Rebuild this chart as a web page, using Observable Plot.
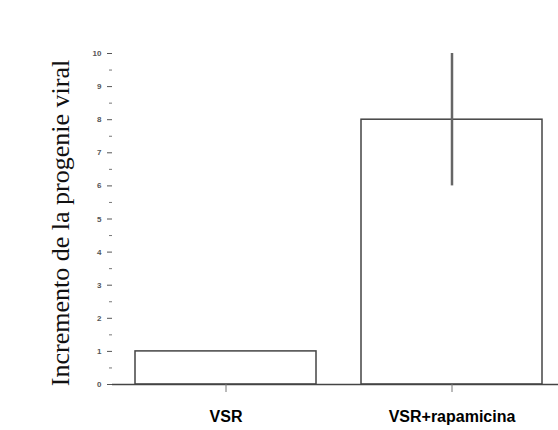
<!DOCTYPE html>
<html>
<head>
<meta charset="utf-8">
<script src="https://cdn.jsdelivr.net/npm/d3@7"></script>
<script src="https://cdn.jsdelivr.net/npm/@observablehq/plot@0.6"></script>
<style>
  body { margin: 0; background: #fff; }
  #chart { width: 558px; height: 430px; }
</style>
</head>
<body>
<div id="chart"></div>
<script>
const categories = ["VSR", "VSR+rapamicina"];
const values = [1, 8];
const errLow = [null, 6];
const errHigh = [null, 10];
const yTicks = [0, 1, 2, 3, 4, 5, 6, 7, 8, 9, 10];
const yMinorTicks = [0.5, 1.5, 2.5, 3.5, 4.5, 5.5, 6.5, 7.5, 8.5, 9.5];
const yLabel = "Incremento de la progenie viral";

const data = categories.map((c, i) => ({cat: c, v: values[i], lo: errLow[i], hi: errHigh[i]}));
const errData = data.filter(d => d.lo != null);

const chart = Plot.plot({
  width: 558,
  height: 430,
  marginLeft: 112,
  marginRight: 0,
  marginTop: 53,
  marginBottom: 46,
  style: {background: "#fff", fontFamily: "Arial, 'Liberation Sans', sans-serif"},
  x: {domain: categories, paddingInner: 0.2, paddingOuter: 0.086, align: 0.59},
  y: {domain: [0, 10]},
  marks: [
    Plot.barY(data, {x: "cat", y: "v", fill: "#fff", stroke: "#444", strokeWidth: 1.5}),
    Plot.ruleX(errData, {x: "cat", y1: "lo", y2: "hi", stroke: "#666", strokeWidth: 2.5}),
    Plot.ruleY([0], {stroke: "#444", strokeWidth: 1.5}),
    Plot.ruleX([0], {frameAnchor: "left", y1: 0, y2: 10, stroke: "#555", strokeWidth: 1.5}),
    Plot.axisY(yTicks, {anchor: "left", tickSize: 5, tickPadding: 6, fontSize: 8, fontWeight: "bold", color: "#555", stroke: "#555", label: null}),
    Plot.axisY(yMinorTicks, {anchor: "left", tickSize: 3, tickFormat: () => "", stroke: "#777", label: null}),
    Plot.axisX({anchor: "bottom", tickSize: 8, tickPadding: 18, fontSize: 16, fontWeight: "bold", color: "#000", stroke: "#777", label: null}),
    Plot.text([yLabel], {frameAnchor: "left", textAnchor: "middle", rotate: -90, dx: -52, dy: 4, fontSize: 26, fontFamily: "'Liberation Serif', 'Times New Roman', serif", fill: "#111"})
  ]
});
document.getElementById("chart").appendChild(chart);
</script>
</body>
</html>
